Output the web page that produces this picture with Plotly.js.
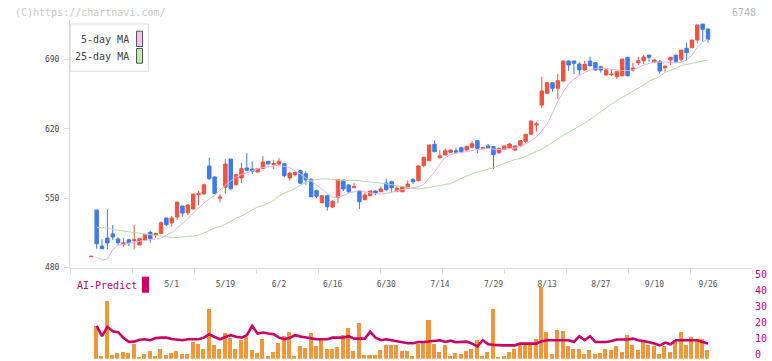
<!DOCTYPE html>
<html><head><meta charset="utf-8">
<script src="https://cdn.plot.ly/plotly-3.0.1.min.js"></script>
<style>html,body{margin:0;padding:0;background:#fff}#c{width:772px;height:361px}</style>
</head><body><div id="c"></div>
<script>
const dates = ['4/9','4/10','4/11','4/14','4/15','4/16','4/17','4/18','4/21','4/22','4/23','4/24','4/25','4/28','4/30',
'5/1','5/2','5/7','5/8','5/9','5/12','5/13','5/14','5/15','5/16','5/19','5/20','5/21','5/22','5/23','5/26','5/27','5/28','5/29','5/30',
'6/2','6/3','6/4','6/5','6/6','6/9','6/10','6/11','6/12','6/13','6/16','6/17','6/18','6/19','6/20','6/23','6/24','6/25','6/26','6/27','6/30',
'7/1','7/2','7/3','7/4','7/7','7/8','7/9','7/10','7/11','7/14','7/15','7/16','7/17','7/18','7/22','7/23','7/24','7/25','7/28','7/29','7/30','7/31',
'8/1','8/4','8/5','8/6','8/7','8/8','8/12','8/13','8/14','8/15','8/18','8/19','8/20','8/21','8/22','8/25','8/26','8/27','8/28','8/29',
'9/1','9/2','9/3','9/4','9/5','9/8','9/9','9/10','9/11','9/12','9/16','9/17','9/18','9/19','9/22','9/24','9/25','9/26'];
const labelDates = ['5/1','5/19','6/2','6/16','6/30','7/14','7/29','8/13','8/27','9/10','9/26'];
const yTicks = [480,550,620,690];
const volTicks = [0,10,20,30,40,50];

const open = [491,538.1,501.7,509.8,513.8,508.8,503,508,507,502.7,507.8,515.5,513.1,514.5,530,525,531,542.1,535.3,539,553.5,554.2,582.5,571.4,550,561,589.5,563.6,570.4,580.5,579.4,576.4,579.9,587.2,584,584.5,584.8,570.4,573.7,577.7,574.7,569,557.5,545.4,552.5,541.1,550.9,568.3,563.3,560.6,557.2,548.5,552.5,557.2,556.5,565.3,566.6,557.2,556.5,560,569,567.6,582.8,587.8,604.4,590.8,593.6,596.3,597.9,600.9,598.6,601.3,608,600.3,602.7,602,595.9,599.3,600.6,598.6,603.4,607.4,614.5,623.9,644,655.9,666.6,660.9,668.3,688.5,688.5,685.5,679.4,688.5,686.8,682.7,674.4,674.6,672.6,673.6,692.2,679.4,686.8,688.8,694.5,687.5,687.8,681.7,689.5,694.5,690.2,701.3,701.9,709.7,725.8,720.8];
const high = [491.3,538.1,508.5,538.8,522.9,510.5,509.5,509,522.9,510,513.8,517.2,515,526.6,530.3,532,546.1,542.1,544.1,554.5,557.2,564.6,590.9,572,554.5,589.5,589.5,574.7,585.8,595.6,587.2,580,592.6,587.5,588.8,590.5,585,577,577,578.7,577,570,558.6,553,553.5,548,569,568.3,564,565.6,557.5,556,557.5,558.2,561.6,569.6,567.6,562.6,562,568,570,583,591.5,603.7,608,598.6,600.3,599,601,602,603,608,608.5,602,604.4,602.5,601,603,605.5,603.5,608.5,615,628,627.2,672.6,667,667,675.4,688.5,688.5,688.5,687.2,688.5,692.8,687,683,681.1,679.4,678,690.5,692.2,686.8,692.8,694.5,694.5,690.5,689.5,683.4,692.2,694.5,699.6,707,709.7,724.8,725.8,720.8];
const low = [491,499,499,498.4,507.8,502.7,501,501.4,498.4,502.7,507.8,505,510,514.5,521.9,521.2,528,531.3,532.7,539,543.1,554,568.3,554,545.8,554.5,558,563,565.3,577,574.4,576,579.9,584,579.4,582,571,567.6,572,565,563.6,551,550,545,537.3,540,545,557.2,555,560.5,539,548,552,552.9,555.9,557.5,556.5,555.9,556,559,564.3,567,581.8,587.8,596.5,590.2,593.5,595.5,594.6,595.3,598,600.3,595.3,599.6,599.6,579.5,594.6,598.5,600,597.5,601.5,605.4,614,617.1,641.3,655,657.5,650.1,667.6,678.4,675.4,674.4,679,682.7,679,676.7,674,673.3,670.3,673,673,677.7,684.4,685.2,687.8,686.8,676,677.7,684.4,686.2,687.8,689.5,701.6,706.4,708,707];
const close = [491.3,504,499,504.7,510.8,505,505,505,508,509.1,513.1,509.1,514.5,525.2,523.2,530,546.1,535,543.1,554.2,554.5,563.6,569.7,554.5,551,584.5,559.6,573.7,579.8,578.1,577,579.7,586.5,584.5,585,587.2,572.7,575.4,576.1,565,568.6,551.5,551.9,552.5,541.4,546.8,568.6,559.3,556.5,561.6,546.4,553.2,557.2,554.9,559.3,558.5,560.6,560,561.6,564.3,566.6,582.5,591.3,603.7,596.9,592.8,597.9,598.6,596.3,596.9,602.3,605,600.3,601,601,593.9,600.3,602.7,604.7,602.7,608,614.5,627.9,624.9,658.2,666.6,660.9,668.6,688.5,684.4,686.2,679.4,685.2,683.8,679.4,679.4,679.4,675.2,677.7,690.5,673.6,681.4,688.8,692.5,692.2,689.5,678.4,683.4,692.2,687.8,699.6,696.9,709.7,724.8,720.5,710.4];
const ma5 = [null,490.3,487.6,488.6,498.2,502.4,503.7,504.7,505.7,506.5,507.1,507.8,508.8,509.8,512.3,515.3,519.9,524.4,529,535,540.1,545.1,549.2,553.2,558.2,563.3,567.3,571.4,573.9,575.9,577.4,579.4,580.8,582,582.5,583,582,581,577.4,574.4,570.4,567.3,563.3,559.3,554.7,550.7,551.2,552.7,555.2,556.7,557.7,556.7,555.2,554.7,554.2,554.7,556.2,557.7,558.7,559.8,560.3,561.3,563.8,570.4,576.4,584.5,590.6,594.1,595.6,596.1,597.1,598.6,599.1,599.6,600.1,599.6,599.1,599.6,599.9,600.6,602.2,604.7,608.2,611.8,617.8,624.9,636,648.1,657.2,665.3,670.3,673.8,676.9,679.4,680.9,681.1,680.9,679.9,679.1,678.9,678.9,679.4,681.9,684.4,686,687.5,687.5,687.5,687,687,687,689.5,694.5,702.6,707.7,710.7];
const ma25 = [null,520.6,520.4,519.9,518.4,517.9,516.8,516.1,515.3,514.5,514.3,513.3,512.1,511.3,510.8,510.3,510.3,510.5,511.3,511.8,512.8,514.8,517.4,519.9,521.2,523.9,526.4,530,532,535,538,541.1,542.6,545.1,547.6,552.2,555.2,557.2,560,563.3,565.8,568,568.8,569.4,569.4,568.8,567.8,567.8,568,568,567.8,566.8,566.6,565.8,565.3,564.3,563.3,562.3,561.6,560.8,560,559.3,559.8,560.8,561.8,562.6,563.8,564.8,567.3,570,572.4,574.4,576.4,577.9,579.4,580.6,583,585,586.5,589,590,592.1,594.6,597.1,599.6,602.7,606.2,609.7,613.3,616.3,619.3,622.4,625.9,629.4,633.5,637.5,641.5,645.1,648.6,651.6,654.7,658.2,661.2,664.3,668.3,670.3,672.8,677.1,678.9,680.9,683.9,685,686.5,687.8,689,689.5];
const volume = [null,20.4,1.4,35.9,2.1,3.3,4.1,3.3,9.0,0.8,2.7,4.6,1.4,5.8,2.1,3.3,4.6,2.7,2.7,10.4,9.0,5.8,30.9,8.3,5.8,15.9,12.7,5.8,11.5,13.6,5.2,3.3,12.1,1.4,3.9,9.6,14.0,16.7,1.4,7.7,6.5,15.9,7.7,12.1,5.8,5.8,7.1,14.6,19.0,4.8,22.1,2.1,2.1,2.1,5.2,8.3,8.3,8.3,4.6,4.6,1.4,9.3,9.6,24.0,9.0,3.9,8.3,1.4,3.3,2.7,4.6,5.8,11.5,1.4,3.9,30.9,0.8,1.4,3.9,5.8,8.3,8.3,8.3,12.1,44.7,16.5,2.7,17.7,17.1,7.7,5.8,5.8,2.7,5.2,2.7,3.3,5.8,5.2,7.7,3.9,14.6,8.3,5.2,11.0,8.3,7.7,2.7,7.7,3.9,11.5,16.5,8.3,13.3,12.0,12.0,5.2];
const predict = [null,20.4,14,19.8,17.1,16.5,13,10.5,10.6,11.8,12.1,11.5,12.8,13.1,13.1,12.3,12.1,11.5,12.1,12.1,12.1,13.1,15.2,13.5,12.1,13.5,14.6,13.6,13.1,14.6,20.4,15.7,16.3,15.7,15.2,13.1,12.1,13,14.6,13.8,13.1,12.5,12.1,12.1,12.1,13.1,13.1,13.1,14,12.5,12.5,12.5,16.7,13.1,11.5,12.1,11.5,10.9,10.2,9.6,9.6,10.4,10.4,10.9,11.2,11.5,10.4,11.2,10.2,10.4,10.6,9.4,7.7,11.5,9,8.6,8.3,8.3,8.3,8.3,9.4,9.4,9.4,9.4,10.9,11.5,11.5,11.5,11.5,11.5,10.4,14,11.5,14,10.4,10.4,10.4,11,11.9,11.9,11.9,12.5,11.5,11,10.4,9.5,8.3,10,9,11.5,11.5,11.5,11.5,11.5,10.4,9.4];

const xi = dates.map((d, i) => i);
const tickIdx = labelDates.map(d => dates.indexOf(d));
const mono = 'DejaVu Sans Mono, monospace';
const RED = '#f05340', BLUE = '#3d7bea', PINK = '#e6b4ea', GREEN = '#b5dba2', MAG = '#cc0066';

const traces = [
  {type:'candlestick', x:xi, open:open, high:high, low:low, close:close, xaxis:'x', yaxis:'y',
   increasing:{line:{color:RED,width:1}, fillcolor:RED}, decreasing:{line:{color:BLUE,width:1}, fillcolor:BLUE},
   whiskerwidth:0, showlegend:false, hoverinfo:'skip'},
  {type:'scatter', mode:'lines', x:xi, y:ma5, line:{color:PINK,width:1}, xaxis:'x', yaxis:'y', showlegend:false, hoverinfo:'skip'},
  {type:'scatter', mode:'lines', x:xi, y:ma25, line:{color:GREEN,width:1}, xaxis:'x', yaxis:'y', showlegend:false, hoverinfo:'skip'},
  {type:'bar', x:xi, y:volume, marker:{color:'#f0963c'}, width:0.75, offset:-0.5, xaxis:'x2', yaxis:'y2', showlegend:false, hoverinfo:'skip'},
  {type:'scatter', mode:'lines', x:xi, y:predict, line:{color:MAG,width:2.6}, xaxis:'x2', yaxis:'y2', showlegend:false, hoverinfo:'skip'},
  {type:'scatter', mode:'lines', x:[0,11], y:[null,null], xaxis:'x3', yaxis:'y', showlegend:false, hoverinfo:'skip'}
];

const H = 361, L = 70, W = 682;
const fy = py => (H - py) / H;
const fx = px => (px - L) / W;
const r0 = -3.972, r1 = 123.2;

const layout = {
  width:772, height:361, margin:{l:70, r:20, t:0, b:0, pad:0},
  paper_bgcolor:'#fff', plot_bgcolor:'#fff', boxgap:0.08, bargap:0,
  font:{family:mono, size:8, color:'#555'},
  xaxis:{domain:[0,1], range:[r0,r1], anchor:'y', tickmode:'array', tickvals:tickIdx, ticktext:labelDates,
    ticks:'', ticklabelstandoff:8, showline:true, linecolor:'#dddddd', linewidth:1, showgrid:false, zeroline:false,
    tickfont:{family:mono, size:8, color:'#555'}, rangeslider:{visible:false}, fixedrange:true},
  xaxis3:{overlaying:'x', anchor:'y', range:[0,11], tickmode:'array', tickvals:[0,1,2,3,4,5,6,7,8,9,10,11],
    ticks:'outside', ticklen:5, tickcolor:'#dddddd', tickwidth:1, showticklabels:false, showgrid:false, zeroline:false, showline:false},
  yaxis:{domain:[fy(268), fy(20)], range:[479.5, 729.9], anchor:'x', tickmode:'array', tickvals:yTicks,
    ticks:'outside', ticklen:5, tickcolor:'#dddddd', showline:true, linecolor:'#dddddd', linewidth:1, showgrid:false, zeroline:false,
    ticklabelstandoff:3, tickfont:{family:mono, size:8, color:'#444'}},
  xaxis2:{domain:[0,1], range:[r0,r1], anchor:'y2', visible:false, matches:'x'},
  yaxis2:{domain:[fy(358.7), fy(278.3)], range:[0,50], anchor:'x2', side:'right', tickmode:'array', tickvals:volTicks,
    ticks:'', showline:false, showgrid:false, zeroline:false, ticklabelstandoff:2, ticklabelshift:-4, ticklabeloverflow:'allow',
    tickfont:{family:mono, size:10, color:MAG}},
  shapes:[
    {type:'rect', xref:'paper', yref:'paper', x0:fx(70.3), x1:fx(148.3), y0:fy(71.3), y1:fy(24), fillcolor:'#fff', line:{color:'#dddddd', width:1}, layer:'above'},
    {type:'rect', xref:'paper', yref:'paper', x0:fx(136.5), x1:fx(142.5), y0:fy(46.5), y1:fy(31.2), fillcolor:'#f2c2f0', line:{color:'#555', width:1}, layer:'above'},
    {type:'rect', xref:'paper', yref:'paper', x0:fx(136.5), x1:fx(142.5), y0:fy(63.2), y1:fy(48.5), fillcolor:'#c6e6b6', line:{color:'#555', width:1}, layer:'above'},
    {type:'rect', xref:'paper', yref:'paper', x0:fx(142), x1:fx(149), y0:fy(292.7), y1:fy(276.7), fillcolor:MAG, line:{width:0}}
  ],
  annotations:[
    {xref:'paper', yref:'paper', x:fx(130.5), y:fy(39.5), xanchor:'right', yanchor:'middle', showarrow:false, text:'5-day MA', font:{family:mono, size:10, color:'#444'}},
    {xref:'paper', yref:'paper', x:fx(130.5), y:fy(56.5), xanchor:'right', yanchor:'middle', showarrow:false, text:'25-day MA', font:{family:mono, size:10, color:'#444'}},
    {xref:'paper', yref:'paper', x:fx(13), y:fy(12), xanchor:'left', yanchor:'middle', showarrow:false, text:'(C)https://chartnavi.com/', font:{family:mono, size:10, color:'#c8c8c8'}},
    {xref:'paper', yref:'paper', x:fx(758), y:fy(12), xanchor:'right', yanchor:'middle', showarrow:false, text:'6748', font:{family:mono, size:10, color:'#b8b8b8'}},
    {xref:'paper', yref:'paper', x:fx(75), y:fy(285.5), xanchor:'left', yanchor:'middle', showarrow:false, text:'AI-Predict', font:{family:mono, size:10, color:MAG}}
  ]
};
Plotly.newPlot('c', traces, layout, {staticPlot:true, displayModeBar:false});
</script></body></html>
